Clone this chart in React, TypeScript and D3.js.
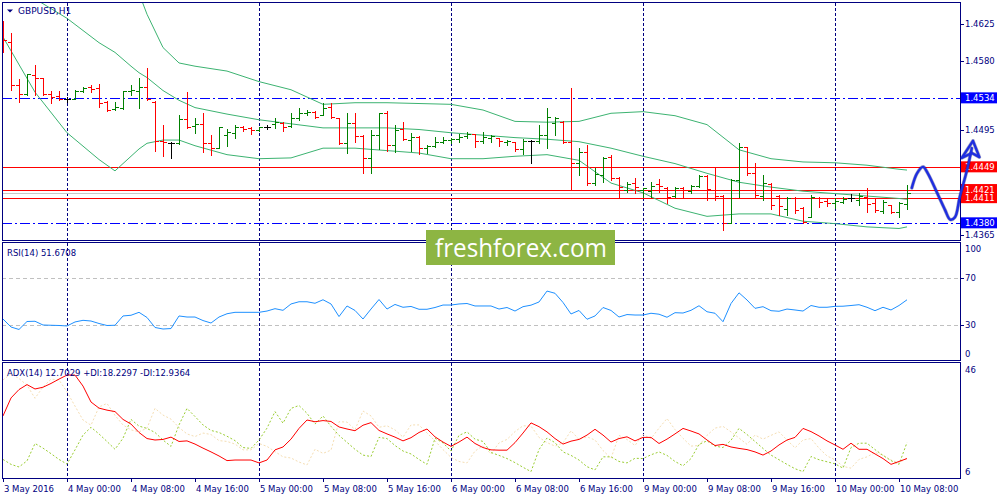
import { useEffect, useRef } from "react";
import * as d3 from "d3";

// GBPUSD H1 bars, first bar = 3 May 16:00, last bar = 10 May 09:00
const opens = [
  1.4626, 1.4603, 1.455, 1.4539, 1.4562, 1.4558, 1.4539, 1.4536, 1.4533, 1.4533,
  1.4543, 1.4547, 1.4546, 1.4529, 1.452, 1.4522, 1.4542, 1.4542, 1.4547, 1.4529,
  1.4481, 1.4478, 1.4478, 1.4508, 1.4499, 1.4502, 1.4478, 1.4472, 1.4488, 1.4491,
  1.4498, 1.4497, 1.4494, 1.4498, 1.4502, 1.4503, 1.4499, 1.4509, 1.4515, 1.4517,
  1.4513, 1.4523, 1.4509, 1.4478, 1.4503, 1.4487, 1.446, 1.4488, 1.4515, 1.4476,
  1.4496, 1.4482, 1.4486, 1.4472, 1.4475, 1.448, 1.4482, 1.4483, 1.4487, 1.449,
  1.4481, 1.4485, 1.4484, 1.448, 1.448, 1.4471, 1.4481, 1.4481, 1.4488, 1.4503,
  1.4504, 1.448, 1.4454, 1.4467, 1.4429, 1.4439, 1.4461, 1.4435, 1.442, 1.4429,
  1.442, 1.4419, 1.4428, 1.4423, 1.4413, 1.4423, 1.4419, 1.4425, 1.4438, 1.442,
  1.4413, 1.438, 1.4433, 1.4473, 1.4441, 1.4413, 1.4428, 1.4413, 1.4397, 1.4411,
  1.4398, 1.4387, 1.4411, 1.4407, 1.4404, 1.4406, 1.4411, 1.4408, 1.4412, 1.4404,
  1.4395, 1.4402, 1.4393, 1.4403,
];
const highs = [
  1.4629, 1.4614, 1.4557, 1.4563, 1.4575, 1.4559, 1.4543, 1.4543, 1.4535, 1.4544,
  1.4547, 1.455, 1.4551, 1.453, 1.4529, 1.4543, 1.455, 1.4559, 1.4571, 1.453,
  1.4501, 1.448, 1.4513, 1.4541, 1.4509, 1.4515, 1.4488, 1.4498, 1.4496, 1.4501,
  1.4499, 1.4498, 1.4498, 1.4501, 1.4509, 1.4504, 1.4515, 1.4522, 1.4519, 1.4518,
  1.4528, 1.4528, 1.4509, 1.4515, 1.4515, 1.4488, 1.4494, 1.4515, 1.4518, 1.4501,
  1.4504, 1.4491, 1.4487, 1.4476, 1.4486, 1.4486, 1.4485, 1.449, 1.4492, 1.449,
  1.4492, 1.4488, 1.4485, 1.4482, 1.448, 1.4483, 1.4482, 1.4501, 1.4522, 1.451,
  1.4505, 1.4546, 1.4472, 1.4476, 1.4448, 1.4461, 1.4464, 1.4436, 1.443, 1.4435,
  1.4423, 1.443, 1.4434, 1.4424, 1.4424, 1.4424, 1.4427, 1.4439, 1.4439, 1.4449,
  1.4414, 1.4434, 1.4478, 1.4473, 1.4454, 1.4439, 1.4429, 1.4414, 1.4412, 1.4412,
  1.44, 1.4414, 1.4412, 1.4411, 1.4411, 1.4412, 1.4416, 1.4417, 1.4423, 1.4411,
  1.4408, 1.4402, 1.4406, 1.4427,
];
const lows = [
  1.4591, 1.4544, 1.4529, 1.4538, 1.4538, 1.4538, 1.4528, 1.4531, 1.4529, 1.4532,
  1.4541, 1.4541, 1.4523, 1.4518, 1.4519, 1.452, 1.4538, 1.4521, 1.4531, 1.4468,
  1.4462, 1.446, 1.4477, 1.4497, 1.4491, 1.4467, 1.4464, 1.4472, 1.4475, 1.4485,
  1.4493, 1.449, 1.4493, 1.4496, 1.4497, 1.4493, 1.4498, 1.4507, 1.4513, 1.4509,
  1.4513, 1.4509, 1.4477, 1.4466, 1.448, 1.4441, 1.4441, 1.4471, 1.4468, 1.4467,
  1.4482, 1.4468, 1.4465, 1.4466, 1.4473, 1.4478, 1.4478, 1.448, 1.4485, 1.4473,
  1.4478, 1.448, 1.4475, 1.4476, 1.4468, 1.4465, 1.4454, 1.4478, 1.4472, 1.4488,
  1.4478, 1.442, 1.4439, 1.4427, 1.4427, 1.443, 1.4433, 1.4412, 1.4418, 1.4417,
  1.4412, 1.4412, 1.4418, 1.4404, 1.4412, 1.4412, 1.4417, 1.4424, 1.4408, 1.4408,
  1.4371, 1.438, 1.4412, 1.4439, 1.4411, 1.4408, 1.4397, 1.439, 1.439, 1.4392,
  1.438, 1.4387, 1.44, 1.4401, 1.4398, 1.4404, 1.4407, 1.4402, 1.4393, 1.4393,
  1.4392, 1.4392, 1.4387, 1.4397,
];
const closes = [
  1.4605, 1.455, 1.4539, 1.4563, 1.4559, 1.4539, 1.4535, 1.4533, 1.4533, 1.4543,
  1.4546, 1.4545, 1.4528, 1.4519, 1.4523, 1.4542, 1.4544, 1.4547, 1.4533, 1.4481,
  1.448, 1.4478, 1.4508, 1.4498, 1.4502, 1.4478, 1.4472, 1.4498, 1.4492, 1.4498,
  1.4496, 1.4494, 1.4498, 1.4498, 1.4504, 1.4498, 1.4509, 1.4515, 1.4517, 1.451,
  1.4522, 1.451, 1.4478, 1.4503, 1.4487, 1.446, 1.4488, 1.4515, 1.4476, 1.4494,
  1.4483, 1.4486, 1.4472, 1.4475, 1.448, 1.4482, 1.4483, 1.4486, 1.449, 1.4481,
  1.4486, 1.4487, 1.4481, 1.4481, 1.4471, 1.4481, 1.4481, 1.4488, 1.451, 1.4509,
  1.448, 1.4454, 1.4467, 1.4429, 1.444, 1.446, 1.4435, 1.4424, 1.4428, 1.4424,
  1.4423, 1.4425, 1.4425, 1.4412, 1.4423, 1.442, 1.4425, 1.4438, 1.4422, 1.4413,
  1.438, 1.4433, 1.4473, 1.4441, 1.4414, 1.4429, 1.4402, 1.4401, 1.4411, 1.4396,
  1.4381, 1.4412, 1.4406, 1.4404, 1.4407, 1.4409, 1.4411, 1.4413, 1.4403, 1.4396,
  1.4406, 1.4393, 1.4404, 1.4417,
];

// Bollinger bands, read at these bar indexes
const bbIdx = [0, 4, 8, 12, 14, 16, 17, 18, 20, 22, 24, 28, 32, 36, 40, 44, 48, 52, 56, 60, 64, 68, 72, 76, 80, 84, 88, 92, 96, 100, 104, 108, 112, 113];
const bbUpper = [
  null, null, null, null, null, null, 1.4663, 1.4637, 1.4596, 1.4577, 1.4573, 1.4567, 1.4554, 1.4544, 1.4526, 1.4528, 1.4528,
  1.4527, 1.4526, 1.4519, 1.4505, 1.4504, 1.4505, 1.4515, 1.4517, 1.4512, 1.4501, 1.447, 1.4459, 1.4455, 1.4454, 1.4451, 1.4446, 1.4445,
];
const bbMiddle = [
  null, 1.4656, 1.4632, 1.4602, 1.459, 1.4573, 1.4565, 1.4559, 1.4543, 1.4531, 1.4522, 1.4514, 1.4507, 1.4502, 1.4497, 1.4497, 1.4497,
  1.4495, 1.4491, 1.4488, 1.4485, 1.4483, 1.448, 1.4472, 1.4462, 1.4453, 1.4441, 1.443, 1.4424, 1.4419, 1.4416, 1.4413, 1.441, 1.4409,
];
const bbLower = [
  1.4609, 1.4541, 1.4491, 1.4458, 1.4444, 1.4462, 1.4471, 1.4478, 1.4482, 1.4482, 1.4475, 1.4464, 1.4459, 1.446, 1.4472, 1.4472, 1.4469,
  1.4466, 1.4459, 1.4459, 1.4462, 1.4464, 1.4457, 1.4429, 1.4417, 1.4398, 1.4388, 1.4391, 1.4391, 1.4382, 1.4379, 1.4375, 1.4373, 1.4375,
];

const rsi = [
  35.3, 28.5, 26.4, 33.2, 33.4, 30.2, 30.0, 29.8, 29.4, 32.8,
  34.2, 33.6, 31.5, 29.8, 30.0, 37.9, 38.5, 41.0, 36.6, 28.1,
  26.8, 27.2, 37.9, 37.0, 37.0, 34.0, 31.9, 37.0, 39.8, 41.0,
  41.0, 41.0, 41.0, 42.1, 44.1, 42.7, 48.1, 50.0, 50.0, 48.7,
  51.7, 48.1, 37.4, 46.4, 42.6, 35.3, 43.8, 51.9, 43.8, 47.7,
  45.3, 46.0, 43.6, 43.6, 45.1, 47.2, 47.2, 48.1, 48.5, 46.4,
  46.4, 46.4, 43.8, 45.1, 42.1, 45.8, 47.1, 49.8, 59.1, 57.2,
  49.4, 39.6, 42.6, 35.1, 37.9, 45.1, 42.6, 37.0, 39.1, 38.7,
  38.7, 40.2, 39.4, 36.8, 40.7, 40.4, 42.7, 46.6, 41.5, 40.2,
  33.0, 48.5, 57.6, 51.5, 44.4, 45.8, 42.4, 41.9, 43.8, 43.0,
  42.1, 46.8, 45.3, 45.3, 46.1, 46.2, 46.8, 47.5, 45.3, 42.4,
  45.3, 43.0, 46.8, 51.67,
];

const adx = [
  27.4, 33.6, 36.5, 38.2, 36.7, 37.3, 38.6, 40.1, 41.5, 41.5,
  37.7, 32.2, 30.1, 29.4, 28.9, 26.2, 24.6, 21.7, 19.6, 19.1,
  19.3, 20.1, 18.6, 18.8, 17.7, 16.3, 15.0, 13.6, 12.0, 12.2,
  12.2, 12.2, 11.2, 12.2, 15.7, 16.7, 19.4, 23.1, 26.0, 25.4,
  25.8, 25.5, 23.6, 22.9, 22.3, 24.2, 25.1, 22.4, 21.2, 20.1,
  18.8, 19.9, 21.7, 22.9, 20.2, 18.4, 16.9, 18.4, 20.1, 17.9,
  16.5, 15.7, 15.6, 15.6, 18.2, 21.5, 25.0, 23.7, 21.9, 19.6,
  17.7, 18.7, 19.3, 20.8, 22.8, 20.8, 18.4, 19.6, 20.2, 18.8,
  20.0, 20.0, 17.9, 19.4, 21.2, 23.1, 22.2, 21.2, 19.1, 17.2,
  17.6, 16.7, 16.2, 15.8, 15.0, 13.9, 15.3, 17.4, 19.1, 20.0,
  23.1, 22.0, 20.5, 18.8, 17.4, 15.9, 18.0, 15.9, 15.9, 14.3,
  12.7, 10.7, 11.7, 12.7029,
];
const plusDi = [
  12.4, 10.7, 9.8, 11.9, 17.9, 16.3, 14.4, 12.4, 10.8, 15.7,
  20.8, 23.5, 21.2, 18.6, 15.9, 19.7, 26.2, 23.9, 23.1, 21.7,
  19.1, 16.9, 24.3, 30.0, 27.2, 24.3, 22.4, 21.7, 20.4, 18.9,
  16.5, 16.2, 19.1, 23.2, 28.9, 24.9, 30.0, 31.0, 28.3, 24.6,
  27.4, 23.8, 20.7, 18.3, 15.9, 13.9, 13.4, 20.0, 19.6, 17.2,
  15.3, 14.3, 12.4, 10.7, 19.7, 18.1, 15.3, 20.7, 21.9, 19.4,
  18.6, 14.8, 13.8, 12.7, 11.3, 9.7, 8.2, 15.8, 19.8, 18.2,
  15.0, 13.8, 12.2, 9.9, 8.8, 13.3, 13.3, 11.7, 11.2, 12.8,
  12.7, 14.0, 15.0, 13.8, 11.7, 10.2, 12.7, 17.6, 18.8, 17.0,
  16.5, 19.0, 23.1, 21.0, 18.6, 16.2, 13.9, 12.3, 10.7, 9.2,
  8.2, 13.4, 12.3, 11.6, 10.9, 9.4, 16.5, 18.0, 18.0, 15.8,
  13.8, 12.0, 10.7, 18.2297,
];
const minusDi = [
  39.8, 42.0, 40.3, 38.0, 33.5, 37.4, 40.1, 39.8, 35.7, 30.8,
  26.0, 24.2, 30.5, 31.7, 27.6, 24.3, 22.6, 21.9, 23.2, 30.0,
  27.7, 26.3, 23.4, 21.2, 20.3, 21.5, 21.0, 18.9, 18.6, 17.7,
  15.7, 15.7, 17.9, 16.9, 15.1, 13.3, 12.9, 11.5, 10.5, 15.9,
  14.5, 15.6, 25.4, 25.3, 22.7, 29.1, 27.4, 23.5, 24.0, 22.6,
  20.1, 24.3, 24.3, 21.5, 18.8, 15.8, 13.1, 11.7, 11.2, 15.3,
  17.1, 14.3, 18.1, 19.3, 22.0, 24.0, 23.9, 20.0, 18.2, 17.0,
  18.1, 22.3, 19.3, 20.2, 19.1, 15.5, 12.8, 20.7, 19.3, 17.2,
  21.0, 19.6, 23.2, 26.5, 22.7, 19.7, 17.0, 17.2, 20.7, 23.2,
  23.8, 21.9, 19.8, 17.6, 20.8, 19.4, 20.7, 21.9, 19.1, 16.4,
  19.1, 19.6, 16.3, 13.6, 12.3, 10.0, 9.4, 12.4, 13.3, 14.8,
  13.9, 12.2, 11.2, 12.9364,
];

const timeIdx = [0, 8, 16, 24, 32, 40, 48, 56, 64, 72, 80, 88, 96, 104, 112];
const timeLabels = [
  "3 May 2016", "4 May 00:00", "4 May 08:00", "4 May 16:00", "5 May 00:00", "5 May 08:00", "5 May 16:00",
  "6 May 00:00", "6 May 08:00", "6 May 16:00", "9 May 00:00", "9 May 08:00", "9 May 16:00", "10 May 00:00", "10 May 08:00",
];
const daySeparators = [8, 32, 56, 80, 104];

const priceTicks = [1.4625, 1.458, 1.4495, 1.4365];
const redLevels = [1.4449, 1.4421, 1.4411];
const blueLevels = [1.4534, 1.438];
const bidPrice = 1.4417;
const rsiLevels = [70, 30];
const rsiAxis = [100, 70, 30, 0];
const adxAxis = [46, 6];

// hand drawn forecast arrow (bar index, price)
const arrowIdx = [113.6, 114.25, 115.0, 115.6, 116.9, 117.75, 118.4, 119.0, 119.6, 120.5, 121.1];
const arrowPrice = [1.4423, 1.4441, 1.4449, 1.4441, 1.4414, 1.4396, 1.4384, 1.4387, 1.4412, 1.4445, 1.4472];
const headIdx = [119.85, 121.25, 122.05, 121.1];
const headPrice = [1.446, 1.4481, 1.4461, 1.4466];

export default function App() {
  const svgRef = useRef<SVGSVGElement>(null);

  useEffect(() => {
    if (!svgRef.current) return;
    const svg = d3.select(svgRef.current);
    svg.selectAll("*").remove();

    const navy = "#000080";
    const font = "Tahoma, 'DejaVu Sans', sans-serif";
    const left = 2;
    const right = 960;
    const main = { top: 2, bottom: 240 };
    const rsiPane = { top: 242, bottom: 360 };
    const adxPane = { top: 362, bottom: 478 };

    const x = d3.scaleLinear().domain([0, 113]).range([3, 907]);
    const yP = d3.scaleLinear().domain([1.4365, 1.4625]).range([235, 24]);
    const yR = d3.scaleLinear().domain([0, 100]).range([360.5, 243]);
    const yA = d3.scaleLinear().domain([6, 46]).range([478, 362]);
    const px = (v: number) => Math.round(v) + 0.5;

    svg.append("rect").attr("width", 1000).attr("height", 500).attr("fill", "#fff");

    const defs = svg.append("defs");
    const clip = (id: string, p: { top: number; bottom: number }) =>
      defs.append("clipPath").attr("id", id).append("rect")
        .attr("x", left + 1).attr("y", p.top + 1)
        .attr("width", right - left - 1).attr("height", p.bottom - p.top - 1);
    clip("clip-main", main);
    clip("clip-rsi", rsiPane);
    clip("clip-adx", adxPane);

    // day separators through all panes
    svg.append("g").selectAll("line").data(daySeparators).join("line")
      .attr("x1", (d) => px(x(d))).attr("x2", (d) => px(x(d)))
      .attr("y1", main.top + 1).attr("y2", adxPane.bottom)
      .attr("stroke", navy).attr("stroke-dasharray", "3,2");

    // ---- main pane ----
    const gMain = svg.append("g").attr("clip-path", "url(#clip-main)");

    gMain.append("line")
      .attr("x1", left).attr("x2", right)
      .attr("y1", px(yP(bidPrice))).attr("y2", px(yP(bidPrice)))
      .attr("stroke", "#c8c8c8");

    gMain.selectAll(".blue-level").data(blueLevels).join("line")
      .attr("class", "blue-level")
      .attr("x1", left).attr("x2", right)
      .attr("y1", (d) => px(yP(d))).attr("y2", (d) => px(yP(d)))
      .attr("stroke", "#0000ff").attr("stroke-dasharray", "10,3,2,3");

    gMain.selectAll(".red-level").data(redLevels).join("line")
      .attr("class", "red-level")
      .attr("x1", left).attr("x2", right)
      .attr("y1", (d) => px(yP(d))).attr("y2", (d) => px(yP(d)))
      .attr("stroke", "#ff0000");

    const band = (vals: (number | null)[]) =>
      d3.line<number>()
        .defined((i) => vals[i] !== null)
        .x((i) => x(bbIdx[i]))
        .y((i) => yP(vals[i] as number))(d3.range(bbIdx.length));
    [bbUpper, bbMiddle, bbLower].forEach((vals) => {
      gMain.append("path").attr("d", band(vals)).attr("fill", "none")
        .attr("stroke", "#3cb371").attr("stroke-width", 1);
    });

    gMain.selectAll(".bar").data(d3.range(opens.length)).join("path")
      .attr("class", "bar")
      .attr("d", (i) => {
        const cx = px(x(i));
        const o = px(yP(opens[i]));
        const c = px(yP(closes[i]));
        return `M${cx},${Math.round(yP(highs[i]))}V${Math.round(yP(lows[i])) + 1}` +
          `M${cx - 3.5},${o}H${cx}M${cx},${c}H${cx + 3.5}`;
      })
      .attr("fill", "none")
      .attr("shape-rendering", "crispEdges")
      .attr("stroke", (i) => closes[i] > opens[i] ? "#008000" : closes[i] < opens[i] ? "#ff0000" : "#000000");

    // ---- RSI pane ----
    const gRsi = svg.append("g").attr("clip-path", "url(#clip-rsi)");
    gRsi.selectAll("line").data(rsiLevels).join("line")
      .attr("x1", left).attr("x2", right)
      .attr("y1", (d) => px(yR(d))).attr("y2", (d) => px(yR(d)))
      .attr("stroke", "#c0c0c0").attr("stroke-dasharray", "4,3");
    gRsi.append("path")
      .attr("d", d3.line<number>().x((_, i) => x(i)).y((d) => yR(d))(rsi))
      .attr("fill", "none").attr("stroke", "#1e90ff").attr("stroke-width", 1);

    // ---- ADX pane ----
    const gAdx = svg.append("g").attr("clip-path", "url(#clip-adx)");
    const lineA = d3.line<number>().x((_, i) => x(i)).y((d) => yA(d));
    gAdx.append("path").attr("d", lineA(minusDi)).attr("fill", "none")
      .attr("stroke", "#f5deb3").attr("stroke-dasharray", "2,2");
    gAdx.append("path").attr("d", lineA(plusDi)).attr("fill", "none")
      .attr("stroke", "#9acd32").attr("stroke-dasharray", "2,2");
    gAdx.append("path").attr("d", lineA(adx)).attr("fill", "none")
      .attr("stroke", "#ff0000").attr("stroke-width", 1);

    // pane frames
    [main, rsiPane, adxPane].forEach((p) => {
      svg.append("rect")
        .attr("x", left + 0.5).attr("y", p.top + 0.5)
        .attr("width", right - left).attr("height", p.bottom - p.top)
        .attr("fill", "none").attr("stroke", navy);
    });

    // ---- right price axis ----
    const axis = svg.append("g").attr("font-family", font).attr("font-size", 8.5);
    priceTicks.forEach((p) => {
      const yy = yP(p);
      axis.append("line").attr("x1", right).attr("x2", right + 4)
        .attr("y1", px(yy)).attr("y2", px(yy)).attr("stroke", navy);
      axis.append("text").attr("x", 965).attr("y", yy + 3.2).attr("fill", navy)
        .text(d3.format(".4f")(p));
    });
    const tagged = [
      ...blueLevels.map((p) => ({ p, c: "#0000ff" })),
      ...redLevels.map((p) => ({ p, c: "#ff0000" })),
    ];
    tagged.forEach(({ p, c }) => {
      axis.append("rect").attr("x", 961).attr("y", yP(p) - 5.5)
        .attr("width", 36).attr("height", 11).attr("fill", c);
    });
    tagged.forEach(({ p }) => {
      axis.append("text").attr("x", 965).attr("y", yP(p) + 3.2).attr("fill", "#fff")
        .text(d3.format(".4f")(p));
    });

    rsiAxis.forEach((v) => {
      const yy = Math.min(Math.max(yR(v), rsiPane.top + 7), rsiPane.bottom - 6);
      if (v > 0 && v < 100) {
        axis.append("line").attr("x1", right).attr("x2", right + 4)
          .attr("y1", px(yR(v))).attr("y2", px(yR(v))).attr("stroke", navy);
      }
      axis.append("text").attr("x", 965).attr("y", yy + 3.2).attr("fill", navy).text(String(v));
    });
    adxAxis.forEach((v) => {
      const yy = Math.min(Math.max(yA(v), adxPane.top + 7.5), adxPane.bottom - 6);
      axis.append("text").attr("x", 965).attr("y", yy + 3.2).attr("fill", navy).text(String(v));
    });

    // ---- time axis ----
    const tAxis = svg.append("g").attr("font-family", font).attr("font-size", 8.5).attr("fill", navy);
    timeIdx.forEach((idx, k) => {
      const tx = px(x(idx));
      tAxis.append("line").attr("x1", tx).attr("x2", tx)
        .attr("y1", adxPane.bottom).attr("y2", adxPane.bottom + 4).attr("stroke", navy);
      tAxis.append("text").attr("x", tx + 0.5).attr("y", 492).text(timeLabels[k]);
    });

    // ---- legends ----
    const lg = svg.append("g").attr("font-family", font).attr("font-size", 8.5).attr("fill", navy);
    lg.append("path").attr("d", "M7,9.5H13L10,12.5Z").attr("fill", navy);
    lg.append("text").attr("x", 18).attr("y", 14).attr("font-size", 9).text("GBPUSD,H1");
    lg.append("text").attr("x", 7).attr("y", 255.5).text(`RSI(14) ${d3.format(".4f")(51.6708)}`);
    lg.append("text").attr("x", 7).attr("y", 375.5)
      .text("ADX(14) 12.7029 +DI:18.2297 -DI:12.9364");

    // ---- watermark ----
    svg.append("rect").attr("x", 426).attr("y", 230).attr("width", 189).attr("height", 35)
      .attr("fill", "#8db543");
    svg.append("text").attr("x", 435).attr("y", 257)
      .attr("font-family", "'Open Sans', 'Noto Sans', sans-serif").attr("font-size", 26)
      .attr("fill", "#ffffff").attr("textLength", 172).attr("lengthAdjust", "spacingAndGlyphs")
      .text("freshforex.com");

    // ---- hand drawn forecast arrow ----
    const arrowLine = d3.line<number>()
      .x((i) => x(arrowIdx[i])).y((i) => yP(arrowPrice[i]))
      .curve(d3.curveCatmullRom);
    const headLine = d3.line<number>()
      .x((i) => x(headIdx[i])).y((i) => yP(headPrice[i]))
      .curve(d3.curveLinearClosed);
    const arrow = svg.append("g").attr("fill", "none").attr("stroke-linecap", "round").attr("stroke-linejoin", "round");
    arrow.append("path").attr("d", arrowLine(d3.range(arrowIdx.length)))
      .attr("stroke", "#000060").attr("stroke-opacity", 0.35).attr("stroke-width", 3.6);
    arrow.append("path").attr("d", headLine(d3.range(headIdx.length)))
      .attr("stroke", "#000060").attr("stroke-opacity", 0.35).attr("stroke-width", 3.6);
    arrow.append("path").attr("d", arrowLine(d3.range(arrowIdx.length)))
      .attr("stroke", "#1f2fe0").attr("stroke-width", 2.4);
    arrow.append("path").attr("d", headLine(d3.range(headIdx.length)))
      .attr("stroke", "#1f2fe0").attr("stroke-width", 2.4);
  }, []);

  return (
    <svg
      ref={svgRef}
      width={1000}
      height={500}
      style={{ position: "absolute", left: 0, top: 0, display: "block" }}
    />
  );
}
